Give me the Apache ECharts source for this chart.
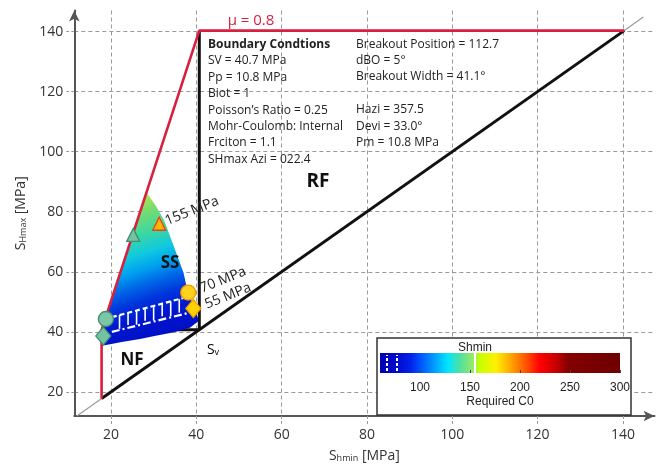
<!DOCTYPE html>
<html><head><meta charset="utf-8">
<script src="https://cdn.jsdelivr.net/npm/echarts@6/dist/echarts.min.js"></script>
<style>html,body{margin:0;padding:0;background:#fff}#c{width:661px;height:468px}</style>
</head><body><div id="c"></div>
<script>
// ---- data ----
const xTicks = [20, 40, 60, 80, 100, 120, 140];
const yTicks = [20, 40, 60, 80, 100, 120, 140];
const c0Ticks = [100, 150, 200, 250, 300];
const refLine = [[12, 12], [144.8, 144.8]];
const frictionLimit = [[17.8, 17.8], [17.8, 40.7], [40.7, 140.3], [140.3, 140.3]];
const equalLine = [[17.8, 17.8], [140.3, 140.3]];
const svLine = [[17.8, 40.7], [40.7, 40.7], [40.7, 140.3]];
const ssRegion = [[17.8, 35.4], [17.8, 40.7], [28.3, 86.5], [30.5, 82.0], [32.5, 77.0], [35.0, 67.4],
  [37.0, 59.7], [37.8, 54.5], [38.6, 51.5], [39.6, 47.5], [40.4, 44.6], [40.4, 43.5], [38.5, 41.4],
  [34.5, 39.8], [30.5, 38.7], [26.8, 37.6], [22.5, 36.6], [19.8, 35.9], [17.8, 35.4]];
const ssGradientAxis = [[28.4, 86.3], [38.5, 42.7]];
const ssStops = [[0, '#b4e650'], [0.12, '#78dc6e'], [0.27, '#3cd8a0'], [0.41, '#10c8e0'], [0.52, '#00a0f0'],
  [0.63, '#0064e6'], [0.74, '#0034dc'], [0.85, '#0018d0'], [1, '#0010c8']];
const upperContour = [[20.2, 44.9], [37.2, 51.4]];
const lowerContour = [[20.2, 40.0], [38.1, 46.3]];
const contourTicks = [[22, 45.6, 41.0], [24, 46.4, 42.3], [26, 47.1, 42.4], [28, 47.9, 43.7],
  [30, 48.6, 43.8], [32, 49.4, 45.2], [34, 50.2, 45.2], [36, 50.9, 46.4]];
const leftTriangle = [[25.2, 72.3]];
const leftCircle = [[18.8, 44.3]];
const leftDiamond = [[18.2, 38.6]];
const rightTriangle = [[31.3, 76.0]];
const rightCircle = [[38.1, 53.1]];
const rightDiamond = [[39.3, 47.8]];
const c0Range = [60, 300];
const c0Colors = [[60, '#0000b4'], [75, '#0008c8'], [90, '#0020e6'], [100, '#0050ff'], [115, '#00a0ff'],
  [128, '#00e6ff'], [140, '#50e0a0'], [152, '#90e870'], [160, '#c8ff00'], [176, '#fff000'],
  [190, '#ffaa00'], [203, '#ff6400'], [220, '#ff0000'], [236, '#c80000'], [248, '#840000'], [300, '#6e0000']];
const c0Marks = [155];
const c0Dashes = [67, 77];
const infoLeft = ['Boundary Condtions', 'SV = 40.7 MPa', 'Pp = 10.8 MPa', 'Biot = 1', 'Poisson\u2019s Ratio = 0.25',
  'Mohr-Coulomb: Internal', 'Frciton = 1.1', 'SHmax Azi = 022.4'];
const infoRight = ['Breakout Position = 112.7', 'dBO = 5\u00b0', 'Breakout Width = 41.1\u00b0', '',
  'Hazi = 357.5', 'Devi = 33.0\u00b0', 'Pm = 10.8 MPa'];
const contourLabels = ['155 MPa', '70 MPa', '55 MPa'];

// ---- chart ----
const FF = '"Open Sans", "Noto Sans", sans-serif';
const LF = '"Liberation Sans", Arial, sans-serif';
const chart = echarts.init(document.getElementById('c'), null, {renderer: 'canvas'});

function lineSeries(data, color, width, type, z) {
  return {type: 'line', data: data, symbol: 'none', silent: true, z: z || 3, animation: false,
    lineStyle: {color: color, width: width, type: type || 'solid'}};
}
function markerSeries(data, symbol, size, fill, stroke) {
  return {type: 'scatter', data: data, symbol: symbol, symbolSize: size, z: 8, silent: true,
    itemStyle: {color: fill, borderColor: stroke, borderWidth: 1.3, opacity: 1}};
}

const axisCommon = {
  type: 'value',
  axisLine: {show: true, onZero: false, symbol: ['none', 'arrow'], symbolSize: [8, 11],
    lineStyle: {color: '#555', width: 2}},
  axisTick: {show: true, length: 8, lineStyle: {color: '#999', type: [3, 2], width: 1}},
  axisLabel: {fontSize: 14, color: '#333', fontFamily: FF},
  splitLine: {show: true, lineStyle: {color: '#9a9a9a', type: [4, 3], width: 1}}
};
const subRich = {
  s: {fontSize: 14, color: '#333', fontFamily: FF, lineHeight: 18, verticalAlign: 'bottom'},
  sub: {fontSize: 9, color: '#333', fontFamily: FF, lineHeight: 8, verticalAlign: 'bottom'}
};

const graphics = [];
graphics.push({type: 'rect', z: 1, shape: {x: 377, y: 338, width: 254, height: 77},
  style: {fill: '#fff', stroke: '#333', lineWidth: 1.5}});
graphics.push({type: 'text', z: 10, x: 475, y: 348, style: {text: 'Shmin', fill: '#222',
  font: '12px ' + LF, align: 'center', verticalAlign: 'middle'}});
const leftY = [44.5, 61, 77.5, 94, 110.5, 127, 143, 159.5];
infoLeft.forEach((t, i) => graphics.push({type: 'text', z: 10, x: 208, y: leftY[i], style: {text: t, fill: '#222',
  font: (i === 0 ? 'bold ' : '') + '12px ' + FF, align: 'left', verticalAlign: 'middle'}}));
const rightY = [44.5, 61, 77, 93.5, 110, 126.5, 142.5];
infoRight.forEach((t, i) => graphics.push({type: 'text', z: 10, x: 356, y: rightY[i], style: {text: t, fill: '#222',
  font: '12px ' + FF, align: 'left', verticalAlign: 'middle'}}));
graphics.push({type: 'text', z: 10, x: 251, y: 21, style: {text: '\u03bc = 0.8', fill: '#d81f3f',
  font: '15px ' + FF, align: 'center', verticalAlign: 'middle'}});
[['RF', 318, 182, 19], ['SS', 170, 263, 17], ['NF', 132, 360, 17]].forEach(r => graphics.push({type: 'text', z: 10,
  x: r[1], y: r[2], style: {text: r[0], fill: '#111', font: 'bold ' + r[3] + 'px ' + FF, align: 'center', verticalAlign: 'middle'}}));
graphics.push({type: 'text', z: 10, x: 213, y: 348, style: {text: '{s|S}{sub|v}', align: 'center', verticalAlign: 'middle',
  rich: subRich}});
const cl = [[192, 211], [223, 280], [228, 296]];
contourLabels.forEach((t, i) => graphics.push({type: 'text', z: 10, x: cl[i][0], y: cl[i][1], rotation: 22 * Math.PI / 180,
  style: {text: t, fill: '#222', font: '14px ' + FF, align: 'center', verticalAlign: 'middle'}}));

const option = {
  animation: false,
  backgroundColor: '#fff',
  grid: [
    {left: 74.3, top: 10.5, width: 580.2, height: 408.8},
    {left: 380, top: 353, width: 240, height: 20}
  ],
  xAxis: [
    Object.assign({}, axisCommon, {gridIndex: 0, min: 11.4, max: 147.4,
      axisTick: Object.assign({}, axisCommon.axisTick, {customValues: xTicks}),
      axisLabel: Object.assign({}, axisCommon.axisLabel, {customValues: xTicks, margin: 12}),
      name: '{s|S}{sub|hmin}{s| [MPa]}', nameLocation: 'middle', nameGap: 29,
      nameTextStyle: {rich: subRich}}),
    {type: 'value', gridIndex: 1, min: c0Range[0], max: c0Range[1], z: 12,
      axisLine: {show: false}, splitLine: {show: false},
      axisTick: {show: true, customValues: c0Ticks, length: 3, inside: true, lineStyle: {color: '#444'}},
      axisLabel: {customValues: c0Ticks, margin: 9, fontSize: 12, color: '#222', fontFamily: LF},
      name: 'Required C0', nameLocation: 'middle', nameGap: 23,
      nameTextStyle: {fontSize: 12, color: '#222', fontFamily: LF}}
  ],
  yAxis: [
    Object.assign({}, axisCommon, {gridIndex: 0, min: 12, max: 147,
      axisTick: Object.assign({}, axisCommon.axisTick, {customValues: yTicks}),
      axisLabel: Object.assign({}, axisCommon.axisLabel, {customValues: yTicks, margin: 11}),
      name: '{s|S}{sub|Hmax}{s| [MPa]}', nameLocation: 'middle', nameGap: 40, nameRotate: 90,
      nameTextStyle: {rich: subRich}}),
    {type: 'value', gridIndex: 1, min: 0, max: 1, show: false}
  ],
  graphic: graphics,
  series: [
    lineSeries(refLine, '#9a9a9a', 1.2, 'solid', 2),
    lineSeries(equalLine, '#111', 3, 'solid', 3),
    lineSeries(svLine, '#111', 3, 'solid', 3),
    {type: 'custom', data: ssRegion, z: 4, silent: true,
      renderItem: function (params, api) {
        if (params.dataIndex !== 0) return null;
        const pts = ssRegion.map(p => api.coord(p));
        const a = api.coord(ssGradientAxis[0]), b = api.coord(ssGradientAxis[1]);
        return {type: 'polygon', shape: {points: pts}, style: {
          fill: {type: 'linear', x: a[0], y: a[1], x2: b[0], y2: b[1], global: true,
            colorStops: ssStops.map(s => ({offset: s[0], color: s[1]}))}}};
      }},
    lineSeries(frictionLimit, '#d81f3f', 2.6, 'solid', 5),
    lineSeries(upperContour, '#fff', 2.2, [5, 3], 6),
    lineSeries(lowerContour, '#fff', 2.2, [8, 3, 2, 3], 6),
    {type: 'custom', data: contourTicks, z: 6, silent: true, encode: {x: 0, y: [1, 2]},
      renderItem: function (params, api) {
        const p1 = api.coord([api.value(0), api.value(1)]);
        const p2 = api.coord([api.value(0), api.value(2)]);
        return {type: 'line', shape: {x1: p1[0], y1: p1[1], x2: p2[0], y2: p2[1]},
          style: {stroke: '#fff', lineWidth: 1.6}};
      }},
    markerSeries(leftTriangle, 'triangle', 13, '#74c2a2', '#3f8f73'),
    markerSeries(leftCircle, 'circle', 15, '#7cc6a8', '#3f8f73'),
    markerSeries(leftDiamond, 'diamond', [15, 18], '#74c2a2', '#3f8f73'),
    markerSeries(rightTriangle, 'triangle', 13, '#ffb400', '#e8401c'),
    markerSeries(rightCircle, 'circle', 15, '#ffd21e', '#f39800'),
    markerSeries(rightDiamond, 'diamond', [15, 18], '#ffd200', '#f0a000'),
    // colour bar
    {type: 'custom', xAxisIndex: 1, yAxisIndex: 1, data: [c0Range], z: 5, silent: true,
      renderItem: function (params, api) {
        const p0 = api.coord([api.value(0), 1]);
        const p1 = api.coord([api.value(1), 0]);
        const span = c0Range[1] - c0Range[0];
        return {type: 'rect', shape: {x: p0[0], y: p0[1], width: p1[0] - p0[0], height: p1[1] - p0[1]},
          style: {fill: {type: 'linear', x: 0, y: 0, x2: 1, y2: 0,
            colorStops: c0Colors.map(c => ({offset: (c[0] - c0Range[0]) / span, color: c[1]}))}}};
      }},
    {type: 'custom', xAxisIndex: 1, yAxisIndex: 1, data: c0Marks, z: 6, silent: true,
      renderItem: function (params, api) {
        const p1 = api.coord([api.value(0), 0]);
        const p2 = api.coord([api.value(0), 1]);
        return {type: 'line', shape: {x1: p1[0], y1: p1[1], x2: p2[0], y2: p2[1]}, style: {stroke: '#fff', lineWidth: 2}};
      }},
    {type: 'custom', xAxisIndex: 1, yAxisIndex: 1, data: c0Dashes, z: 6, silent: true,
      renderItem: function (params, api) {
        const p1 = api.coord([api.value(0), 0.1]);
        const p2 = api.coord([api.value(0), 0.9]);
        return {type: 'line', shape: {x1: p1[0], y1: p1[1], x2: p2[0], y2: p2[1]},
          style: {stroke: '#fff', lineWidth: 2, lineDash: [3, 2]}};
      }}
  ]
};
chart.setOption(option);
</script></body></html>
